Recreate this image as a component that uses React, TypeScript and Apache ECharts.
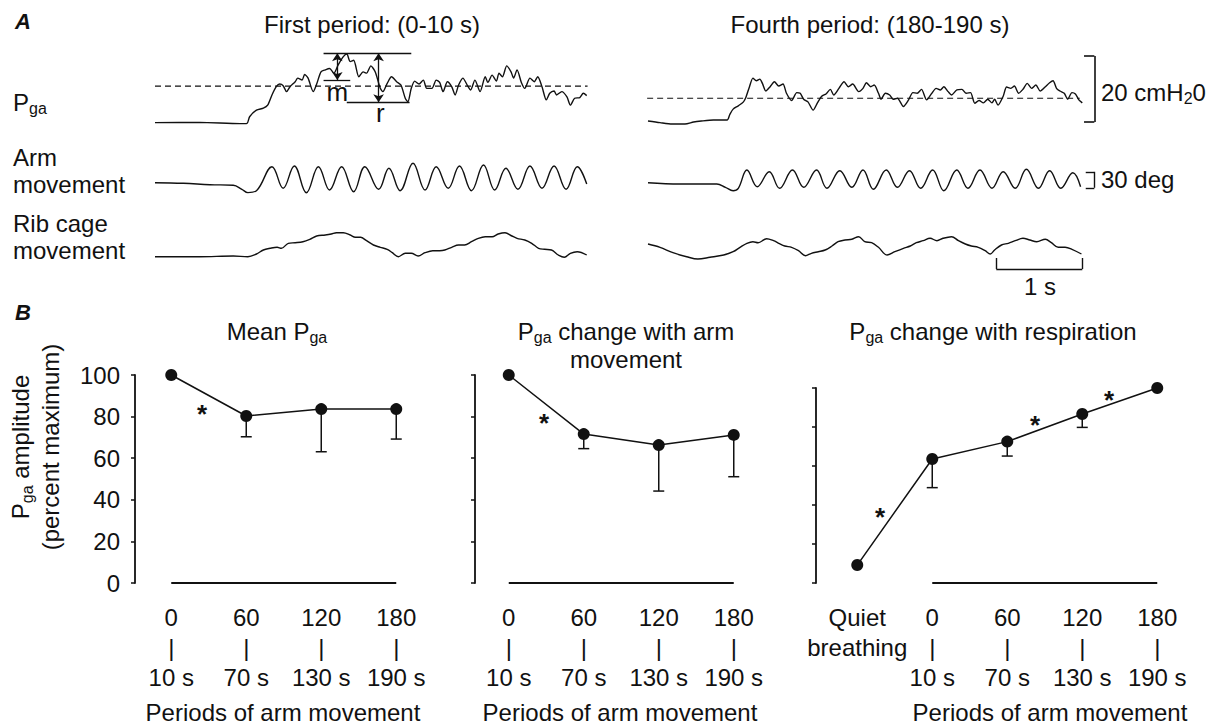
import React, { useEffect, useRef } from "react";
import * as echarts from "echarts";

const INK = "#111111";
const FONT = "'Liberation Sans', Arial, Helvetica, sans-serif";

// ---------------- Panel A: recorded traces, [time (s), value] ----------------
// Gastric pressure, cmH2O above resting baseline
const pgaFirst: [number, number][] = [
  [0.0, -0.2], [0.52, -0.1], [0.99, -0.5], [1.07, -0.4], [1.1, 1.6], [1.18, 3.6], [1.26, 4.2], [1.31, 5.1],
  [1.36, 8.2], [1.41, 10.7], [1.45, 11.5], [1.49, 11.0], [1.53, 9.2], [1.57, 10.7], [1.63, 12.2], [1.66, 13.3],
  [1.71, 12.7], [1.74, 14.4], [1.78, 13.3], [1.84, 9.2], [1.88, 11.5], [1.93, 15.2], [1.98, 15.8], [2.03, 16.2],
  [2.08, 14.8], [2.13, 17.3], [2.19, 19.8], [2.23, 20.6], [2.27, 18.3], [2.31, 18.7], [2.37, 13.7], [2.42, 15.2],
  [2.46, 14.8], [2.51, 17.0], [2.56, 15.2], [2.62, 10.2], [2.65, 9.2], [2.7, 11.7], [2.75, 13.7], [2.81, 12.2],
  [2.86, 11.2], [2.91, 7.2], [2.94, 6.1], [2.98, 10.2], [3.02, 12.4], [3.07, 11.5], [3.12, 12.7], [3.16, 10.2],
  [3.22, 10.2], [3.27, 12.7], [3.31, 12.0], [3.35, 9.2], [3.4, 12.2], [3.45, 10.7], [3.49, 8.2], [3.53, 11.2],
  [3.58, 13.3], [3.63, 11.2], [3.67, 9.7], [3.72, 12.7], [3.78, 9.2], [3.84, 13.7], [3.87, 12.0], [3.92, 14.2],
  [3.97, 12.4], [4.0, 14.8], [4.04, 13.7], [4.09, 17.0], [4.14, 15.2], [4.17, 13.3], [4.21, 15.8], [4.26, 12.0],
  [4.3, 10.2], [4.36, 13.3], [4.41, 12.2], [4.45, 13.7], [4.5, 10.7], [4.55, 6.7], [4.59, 8.7], [4.64, 9.4],
  [4.67, 8.2], [4.73, 9.2], [4.79, 7.6], [4.83, 5.1], [4.88, 7.2], [4.94, 7.4], [4.98, 8.7], [5.02, 8.0],
];
const pgaFirstMean = 10.9;
const pgaFourth: [number, number][] = [
  [0.0, 0.3], [0.14, -0.2], [0.28, -0.6], [0.43, -0.6], [0.53, 0], [0.62, 0.3], [0.76, 0.6], [0.92, 0.6],
  [0.95, 2.2], [0.99, 3.9], [1.05, 4.9], [1.11, 6.1], [1.14, 7.6], [1.18, 10.7], [1.22, 13.3], [1.26, 12.5],
  [1.3, 13.0], [1.33, 11.7], [1.37, 9.4], [1.42, 10.7], [1.47, 12.2], [1.52, 10.9], [1.57, 11.5], [1.61, 8.7],
  [1.67, 6.5], [1.73, 8.9], [1.77, 8.7], [1.81, 6.9], [1.86, 6.1], [1.92, 3.6], [1.97, 5.8], [2.02, 7.8],
  [2.07, 8.5], [2.12, 9.9], [2.16, 8.2], [2.22, 10.2], [2.28, 12.2], [2.33, 10.7], [2.38, 11.5], [2.45, 9.2],
  [2.5, 10.2], [2.54, 11.9], [2.59, 10.7], [2.63, 11.2], [2.68, 8.7], [2.71, 6.9], [2.76, 8.7], [2.81, 8.2],
  [2.85, 6.9], [2.9, 7.2], [2.97, 4.7], [3.03, 6.7], [3.08, 8.9], [3.13, 8.7], [3.18, 9.9], [3.24, 6.7],
  [3.3, 8.7], [3.35, 10.2], [3.4, 9.7], [3.44, 10.7], [3.49, 9.2], [3.53, 8.2], [3.59, 9.7], [3.65, 9.9],
  [3.7, 8.7], [3.75, 8.9], [3.8, 5.7], [3.85, 6.5], [3.9, 5.8], [3.95, 6.9], [4.0, 5.8], [4.03, 6.9],
  [4.07, 5.1], [4.13, 7.8], [4.17, 10.6], [4.22, 10.2], [4.26, 10.9], [4.31, 8.7], [4.36, 9.9], [4.41, 11.7],
  [4.46, 10.2], [4.51, 11.2], [4.56, 9.4], [4.62, 10.7], [4.67, 11.9], [4.71, 12.5], [4.75, 10.2], [4.79, 9.4],
  [4.84, 8.7], [4.88, 6.9], [4.93, 8.9], [4.97, 8.5], [5.01, 6.7], [5.05, 5.8],
];
const pgaFourthMean = 7.2;

// Arm movement, degrees
const armFirst: [number, number][] = [
  [0, 0.6], [0.33, -0.6], [0.64, -3.2], [0.91, -4.3], [1.01, -11.8], [1.08, -18.0], [1.18, -14.4],
  [1.36, 30.6], [1.49, -9.9], [1.62, 31.9], [1.76, -18.2], [1.9, 30.6], [2.03, -13.1], [2.17, 30.6],
  [2.31, -16.3], [2.44, 30.6], [2.6, -11.8], [2.72, 27.6], [2.85, -14.4], [3.0, 36.9], [3.14, -13.1],
  [3.27, 30.6], [3.41, -9.9], [3.54, 31.9], [3.68, -14.4], [3.82, 33.8], [3.95, -13.1], [4.08, 27.6],
  [4.22, -11.8], [4.36, 31.9], [4.5, -9.9], [4.64, 31.9], [4.78, -11.8], [4.91, 30.6], [5.02, -1.9],
];
const armFourth: [number, number][] = [
  [0, 0.6], [0.37, -1.9], [0.8, -1.9], [0.9, -8.1], [0.99, -14.4], [1.05, -9.9], [1.15, 24.4], [1.27, -6.9],
  [1.41, 21.2], [1.53, -9.9], [1.68, 24.4], [1.81, -8.1], [1.96, 24.4], [2.08, -9.9], [2.23, 23.1],
  [2.37, -8.1], [2.5, 24.4], [2.62, -11.8], [2.77, 24.4], [2.9, -8.1], [3.04, 23.1], [3.17, -9.9],
  [3.31, 24.4], [3.44, -14.4], [3.59, 24.4], [3.72, -9.9], [3.86, 24.4], [4.0, -9.9], [4.13, 21.2],
  [4.27, -9.9], [4.4, 25.7], [4.54, -9.9], [4.67, 23.1], [4.8, -9.9], [4.94, 19.3], [5.03, -6.9],
];

// Rib cage movement, arbitrary units
const ribFirst: [number, number][] = [
  [0, 0.3], [0.52, 0.3], [0.91, 1], [1.08, 0.3], [1.18, 3], [1.26, 7], [1.34, 8.7], [1.42, 9.7], [1.47, 8.7],
  [1.55, 13.7], [1.63, 14.3], [1.72, 15.3], [1.8, 17.7], [1.88, 21], [1.98, 22], [2.05, 23], [2.11, 24.3],
  [2.19, 24.3], [2.27, 22], [2.33, 19.7], [2.39, 19.7], [2.46, 16.3], [2.54, 12], [2.62, 9.7], [2.7, 7.7],
  [2.76, 4.3], [2.83, 0.3], [2.91, 3.7], [2.98, 3.7], [3.06, 1], [3.14, 4.3], [3.23, 6.3], [3.31, 6.3],
  [3.37, 7], [3.45, 9.7], [3.53, 12], [3.6, 12], [3.68, 15.3], [3.76, 18.7], [3.84, 20.3], [3.92, 20.3],
  [3.99, 23], [4.07, 24.3], [4.15, 21], [4.21, 18.7], [4.3, 17], [4.38, 13.7], [4.46, 8.7], [4.53, 7.7],
  [4.61, 7], [4.69, 2], [4.76, -0.3], [4.83, 3.7], [4.91, 5.3], [5.02, 2],
];
const ribFourth: [number, number][] = [
  [0, 13], [0.14, 9.7], [0.29, 4.3], [0.45, 0.3], [0.58, -2], [0.72, -0.3], [0.88, 2], [0.99, 5.3],
  [1.07, 9.7], [1.15, 13.7], [1.22, 15.3], [1.28, 14.3], [1.38, 18.3], [1.46, 16.3], [1.52, 13.7], [1.59, 11],
  [1.67, 9.7], [1.75, 6.3], [1.83, 1.3], [1.9, 3.7], [1.98, 5.3], [2.06, 7], [2.14, 11], [2.21, 15.3],
  [2.29, 17], [2.37, 17.7], [2.45, 20.3], [2.52, 15.3], [2.6, 14.3], [2.68, 9.7], [2.78, 2], [2.87, 5.3],
  [2.97, 8.7], [3.05, 11], [3.12, 14.3], [3.2, 16.3], [3.28, 18.7], [3.36, 16.3], [3.43, 18.7], [3.53, 20.3],
  [3.61, 16.3], [3.69, 13], [3.76, 11], [3.84, 9.7], [3.92, 6.3], [3.98, 3], [4.03, 7], [4.11, 12],
  [4.19, 13.7], [4.27, 16.3], [4.36, 18.7], [4.44, 17], [4.52, 15.3], [4.62, 17.7], [4.69, 14.3], [4.77, 9.7],
  [4.85, 9.7], [4.93, 7.7], [5.04, 3],
];

// m / r measurement marks on the first-period Pga trace (cmH2O levels)
const pgaPeakLevel = 20.8;
const pgaMLevel = 12.7;
const pgaRLevel = 6.0;
const measureLabels = ["m", "r"];
const measureLabelPos: [number, number][] = [[2.12, 9.2], [2.62, 2.6]];

// ---------------- Panel B: summary data ----------------
const periodValues = [0, 60, 120, 180];
const periodEndLabels = ["10 s", "70 s", "130 s", "190 s"];
const quietPosition = -60;
const yTickValues = [0, 20, 40, 60, 80, 100];

const meanPga = [100, 80.3, 83.6, 83.6];
const meanPgaLow = [null, 70.3, 63.1, 69.2];
const armPga = [100, 71.6, 66.3, 71.2];
const armPgaLow = [null, 64.6, 44.2, 51.1];
const respPositions = [quietPosition, 0, 60, 120, 180];
const respPga = [9.2, 63.6, 72.5, 86.7, 100];
const respPgaLow = [null, 48.9, 65.1, 79.8, null];

const meanStars: [number, number][] = [[24.6, 84.6]];
const armStars: [number, number][] = [[28.2, 80.3]];
const respStars: [number, number][] = [[-41.8, 37.4], [82.2, 84.6], [141.4, 97.4]];

// ---------------- layout ----------------
const PX_PER_S = 86;
const T_MAX = 5.3;
const traceCols = [155, 648];
const traceRows = [
  { base: 122, ppu: 3.3, min: -4, max: 24 },
  { base: 183, ppu: 16 / 30, min: -30, max: 45 },
  { base: 257, ppu: 1, min: -30, max: 30 },
];
const B_BOTTOM = 583;
const PX_PER_X = 1.25;
const B_XMAX = 190;
const bPanels = [
  { axisX: 135, top: 375, min: -29, showLabels: true },
  { axisX: 475, top: 375, min: -27, showLabels: false },
  { axisX: 816, top: 388, min: -93, showLabels: false },
];

const mainStyle = (lh: number) => ({ fontSize: 24, fontFamily: FONT, lineHeight: lh, verticalAlign: "middle", fill: INK, color: INK });
const subStyle = (lh: number) => ({ fontSize: 16, fontFamily: FONT, lineHeight: lh - 16, verticalAlign: "bottom", fill: INK, color: INK });

function txt(text: string, x: number, y: number, o: any = {}) {
  const align = o.align ?? "left";
  return {
    type: "text",
    x,
    y,
    rotation: o.rotation ?? 0,
    silent: true,
    z: 20,
    style: {
      text,
      fill: INK,
      fontSize: o.size ?? 24,
      fontFamily: FONT,
      fontWeight: o.weight ?? "normal",
      fontStyle: o.fontStyle ?? "normal",
      align,
      textAlign: align,
      verticalAlign: "middle",
      textVerticalAlign: "middle",
      lineHeight: o.lineHeight,
      rich: o.rich,
    },
  };
}
const richText = (lh: number) => ({ m: mainStyle(lh), s: subStyle(lh) });

function seg(a: number[], b: number[], sa = "none", sb = "none") {
  return [
    { coord: a, symbol: sa },
    { coord: b, symbol: sb },
  ];
}

// text drawn at data coordinates through a custom series
function textSeries(gi: number, pts: [number, number][], texts: string[], size: number, weight: string, dy: number) {
  return {
    type: "custom",
    xAxisIndex: gi,
    yAxisIndex: gi,
    silent: true,
    clip: false,
    z: 8,
    data: pts,
    renderItem: (params: any, api: any) => {
      const p = api.coord([api.value(0), api.value(1)]);
      return {
        type: "text",
        x: p[0],
        y: p[1] + dy,
        style: {
          text: texts[params.dataIndex % texts.length],
          fill: INK,
          fontSize: size,
          fontFamily: FONT,
          fontWeight: weight,
          align: "center",
          textAlign: "center",
          verticalAlign: "middle",
          textVerticalAlign: "middle",
        },
      };
    },
  };
}

function buildOption() {
  const grid: any[] = [];
  const xAxis: any[] = [];
  const yAxis: any[] = [];
  const series: any[] = [];

  traceCols.forEach((left) => {
    traceRows.forEach((r) => {
      const gi = grid.length;
      grid.push({
        left,
        top: r.base - r.max * r.ppu,
        width: T_MAX * PX_PER_S,
        height: (r.max - r.min) * r.ppu,
        containLabel: false,
        outerBoundsMode: "none",
      });
      xAxis.push({ gridIndex: gi, type: "value", min: 0, max: T_MAX, show: false });
      yAxis.push({ gridIndex: gi, type: "value", min: r.min, max: r.max, show: false });
    });
  });

  const traceLine = (gi: number, data: [number, number][], smooth: number, extra: any = {}) => ({
    type: "line",
    xAxisIndex: gi,
    yAxisIndex: gi,
    data,
    showSymbol: false,
    symbol: "none",
    smooth,
    clip: false,
    silent: true,
    lineStyle: { color: INK, width: 1.4 },
    ...extra,
  });
  const markStyle = {
    silent: true,
    symbol: ["none", "none"],
    symbolSize: 8,
    label: { show: false },
    lineStyle: { color: INK, width: 1.3, type: "solid" },
    itemStyle: { color: INK },
    emphasis: { disabled: true },
  };

  // first period
  series.push(
    traceLine(0, pgaFirst, 0.25, {
      markLine: {
        ...markStyle,
        data: [
          seg([1.96, pgaPeakLevel], [2.98, pgaPeakLevel]),
          seg([1.96, pgaMLevel], [2.27, pgaMLevel]),
          seg([2.23, pgaRLevel], [2.96, pgaRLevel]),
          seg([2.12, pgaPeakLevel], [2.12, pgaMLevel], "arrow", "arrow"),
          seg([2.6, pgaPeakLevel], [2.6, pgaRLevel], "arrow", "arrow"),
        ],
      },
    })
  );
  series.push(
    traceLine(0, [[0, pgaFirstMean], [5.03, pgaFirstMean]], 0, { lineStyle: { color: INK, width: 1.2, type: [6, 4] } })
  );
  series.push(textSeries(0, measureLabelPos, measureLabels, 26, "normal", 0));
  series.push(traceLine(1, armFirst, 0.4));
  series.push(traceLine(2, ribFirst, 0.35));

  // fourth period
  series.push(
    traceLine(3, pgaFourth, 0.25, {
      markLine: {
        ...markStyle,
        lineStyle: { color: INK, width: 1.6, type: "solid" },
        data: [seg([5.19, 0], [5.19, 20]), seg([5.07, 0], [5.19, 0]), seg([5.07, 20], [5.19, 20])],
      },
    })
  );
  series.push(
    traceLine(3, [[-0.01, pgaFourthMean], [5.02, pgaFourthMean]], 0, { lineStyle: { color: INK, width: 1.2, type: [6, 4] } })
  );
  series.push(
    traceLine(4, armFourth, 0.4, {
      markLine: {
        ...markStyle,
        lineStyle: { color: INK, width: 1.4, type: "solid" },
        data: [seg([5.19, -9], [5.19, 21]), seg([5.09, -9], [5.19, -9]), seg([5.09, 21], [5.19, 21])],
      },
    })
  );
  series.push(
    traceLine(5, ribFourth, 0.35, {
      markLine: {
        ...markStyle,
        lineStyle: { color: INK, width: 1.4, type: "solid" },
        data: [seg([4.05, -12], [5.05, -12]), seg([4.05, -12], [4.05, -1]), seg([5.05, -12], [5.05, -1])],
      },
    })
  );

  // Panel B
  const bData = [
    { xs: periodValues, ys: meanPga, lows: meanPgaLow, stars: meanStars },
    { xs: periodValues, ys: armPga, lows: armPgaLow, stars: armStars },
    { xs: respPositions, ys: respPga, lows: respPgaLow, stars: respStars },
  ];
  bPanels.forEach((p, k) => {
    const gi = grid.length;
    grid.push({
      left: p.axisX,
      top: p.top,
      width: (B_XMAX - p.min) * PX_PER_X,
      height: B_BOTTOM - p.top,
      containLabel: false,
      outerBoundsMode: "none",
    });
    const labelValues = k === 2 ? [quietPosition, ...periodValues] : periodValues;
    xAxis.push({
      gridIndex: gi,
      type: "value",
      min: p.min,
      max: B_XMAX,
      axisLine: { show: false, onZero: false },
      axisTick: { show: false },
      splitLine: { show: false },
      axisLabel: {
        show: true,
        customValues: labelValues,
        formatter: (v: number) => {
          if (v === quietPosition) return "Quiet\nbreathing";
          const i = periodValues.indexOf(v);
          return i < 0 ? "" : `${v}\n|\n${periodEndLabels[i]}`;
        },
        fontSize: 24,
        fontFamily: FONT,
        color: INK,
        lineHeight: 30,
        margin: 19,
        align: "center",
        verticalAlign: "top",
      },
    });
    yAxis.push({
      gridIndex: gi,
      type: "value",
      min: 0,
      max: 100,
      interval: 20,
      axisLine: { show: true, onZero: false, lineStyle: { color: INK, width: 1.8 } },
      axisTick: { show: true, length: 4, inside: false, customValues: yTickValues, lineStyle: { color: INK, width: 1.5 } },
      splitLine: { show: false },
      axisLabel: {
        show: p.showLabels,
        fontSize: 24,
        fontFamily: FONT,
        color: INK,
        margin: 15,
      },
    });
    const d = bData[k];
    series.push({
      type: "line",
      xAxisIndex: gi,
      yAxisIndex: gi,
      data: d.xs.map((x, i) => [x, d.ys[i]]),
      symbol: "circle",
      symbolSize: 12,
      showSymbol: true,
      clip: false,
      silent: true,
      z: 5,
      itemStyle: { color: INK },
      lineStyle: { color: INK, width: 1.5 },
      markLine: {
        silent: true,
        symbol: ["none", "none"],
        label: { show: false },
        lineStyle: { color: INK, width: 1.8, type: "solid" },
        emphasis: { disabled: true },
        data: [seg([0, 0], [180, 0])],
      },
    });
    series.push({
      type: "custom",
      xAxisIndex: gi,
      yAxisIndex: gi,
      silent: true,
      z: 4,
      clip: false,
      data: d.xs
        .map((x, i) => (d.lows[i] == null ? null : [x, d.lows[i], d.ys[i]]))
        .filter((v) => v != null),
      renderItem: (_params: any, api: any) => {
        const x = api.value(0);
        const lo = api.value(1);
        const hi = api.value(2);
        const p1 = api.coord([x, hi]);
        const p2 = api.coord([x, lo]);
        return {
          type: "group",
          children: [
            { type: "line", shape: { x1: p1[0], y1: p1[1], x2: p2[0], y2: p2[1] }, style: { stroke: INK, lineWidth: 1.5 } },
            { type: "line", shape: { x1: p2[0] - 5.5, y1: p2[1], x2: p2[0] + 5.5, y2: p2[1] }, style: { stroke: INK, lineWidth: 1.5 } },
          ],
        };
      },
    });
    series.push(textSeries(gi, d.stars, ["*"], 26, "bold", 7));
  });

  const graphic = [
    txt("A", 15, 21, { size: 22, weight: "bold", fontStyle: "italic" }),
    txt("B", 15, 312, { size: 22, weight: "bold", fontStyle: "italic" }),
    txt("First period: (0-10 s)", 372, 24, { align: "center" }),
    txt("Fourth period: (180-190 s)", 870, 24, { align: "center" }),
    txt("{m|P}{s|ga}", 13, 102, { rich: richText(28) }),
    txt("Arm\nmovement", 13, 171, { lineHeight: 27 }),
    txt("Rib cage\nmovement", 13, 237, { lineHeight: 27 }),
    txt("{m|20 cmH}{s|2}{m|0}", 1101, 92, { rich: richText(28) }),
    txt("30 deg", 1101, 179),
    txt("1 s", 1040, 286, { align: "center" }),
    txt("{m|Mean P}{s|ga}", 277, 331, { align: "center", rich: richText(28) }),
    txt("{m|P}{s|ga}{m| change with arm}\n{m|movement}", 626, 345.7, { align: "center", rich: richText(28) }),
    txt("{m|P}{s|ga}{m| change with respiration}", 993, 331, { align: "center", rich: richText(28) }),
    txt("{m|P}{s|ga}{m| amplitude}\n{m|(percent maximum)}", 35, 447, {
      align: "center",
      rotation: Math.PI / 2,
      rich: richText(30),
    }),
    txt("Periods of arm movement", 283, 712, { align: "center" }),
    txt("Periods of arm movement", 620, 712, { align: "center" }),
    txt("Periods of arm movement", 1050, 712, { align: "center" }),
  ];

  return {
    animation: false,
    backgroundColor: "#ffffff",
    textStyle: { fontFamily: FONT, color: INK },
    grid,
    xAxis,
    yAxis,
    series,
    graphic,
  };
}

export default function App() {
  const ref = useRef<HTMLDivElement>(null);
  useEffect(() => {
    if (!ref.current) return;
    const chart = echarts.init(ref.current, undefined, { renderer: "svg" });
    chart.setOption(buildOption() as any);
    return () => chart.dispose();
  }, []);
  return (
    <div
      ref={ref}
      style={{ position: "fixed", left: 0, top: 0, width: 1218, height: 726, background: "#ffffff" }}
    />
  );
}
